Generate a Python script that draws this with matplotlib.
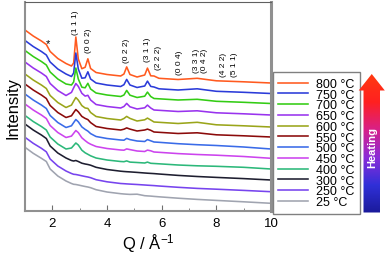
import numpy as np
import matplotlib.pyplot as plt
from matplotlib.colors import LinearSegmentedColormap
from matplotlib.patches import Polygon

plt.rcParams['font.family'] = ['Liberation Sans', 'DejaVu Sans']
plt.rcParams['mathtext.default'] = 'regular'

# Q grid (1/Angstrom) and stacked intensities
q = [1.0, 1.3, 1.6, 1.78, 1.92, 2.2, 2.5, 2.7, 2.78, 2.86, 2.95, 3.08, 3.2, 3.3, 3.4, 3.6,
     4.0, 4.5, 4.62, 4.72, 4.84, 5.1, 5.38, 5.48, 5.6, 5.72, 5.9, 6.6, 7.3, 8.0, 9.0, 10.0]

i_800 = [181, 175, 170, 166.5, 159.5, 152.5, 147.5, 145, 148, 174, 152, 142.3, 143.7, 152.2, 142.5, 138.5,
         136.5, 135, 137, 144.1, 136.5, 134, 136, 142.9, 135.2, 135, 132.7, 131.5, 132.7, 130.2, 129.2, 128]
i_750 = [170.5, 164.5, 159.5, 156, 149, 142, 137, 134.5, 138, 158, 142, 132.8, 133.2, 139.2, 132, 128,
         126, 124.5, 126.3, 131.6, 126, 123.5, 125, 129.9, 124.6, 124, 122.2, 121, 122.2, 119.7, 118.7, 117.5]
i_700 = [160.5, 154.5, 149.5, 146, 139, 132, 127, 126, 129, 143, 132, 123.8, 123.2, 127.7, 122, 118,
         116, 114.5, 116, 120.6, 115.8, 113.5, 114.8, 118.9, 114.5, 112.5, 112.2, 111, 111.7, 109.7, 108.7, 107.5]
i_650 = [149, 143, 138, 134.5, 127.5, 120.5, 115.5, 118.6, 123.2, 127.5, 124.6, 117.7, 114.9, 115.7, 111, 106.5,
         104.5, 103, 104.5, 107.6, 104.2, 102, 103.2, 105.9, 103, 101, 100.7, 99.5, 100.2, 98.2, 97.2, 96]
i_600 = [137, 131, 126, 122.5, 115.5, 108.5, 103.5, 105.9, 109.8, 113.5, 110.9, 105.4, 103, 102.6, 98.5, 94.5,
         92.5, 91, 92.5, 94.6, 92.6, 90, 91.2, 92.9, 91, 89, 88.7, 87.5, 88.7, 86.2, 85.2, 84]
i_550 = [127, 121, 116, 112.5, 105.5, 98.5, 93.5, 95.2, 98.4, 101.5, 99.2, 94.6, 92.6, 91.4, 88.4, 84.5,
         82.5, 81, 81.8, 83.1, 81.9, 80, 81, 81.9, 80.7, 79, 78.7, 77.5, 78.2, 76.2, 75.2, 74]
i_500 = [117, 111, 106, 102.5, 95.5, 88.5, 83.5, 85.2, 88.4, 91.5, 89.2, 84.1, 81.6, 79.9, 77.4, 74.5,
         72.5, 71, 70.8, 72.6, 71.4, 70, 69.5, 71.4, 70.2, 69, 68.7, 67.3, 66.3, 65.5, 64, 62]
i_450 = [107, 101, 96, 92.5, 85.5, 78.5, 73.5, 74.9, 77.7, 80.5, 78.4, 73.2, 70.4, 68.3, 66.8, 64.5,
         62.5, 61, 60.8, 62.1, 61.4, 60, 59.5, 60.9, 60.2, 59, 58.7, 57.4, 56.5, 55.8, 54.5, 52.7]
i_400 = [95.5, 89.5, 84.5, 81, 74, 67, 62, 63, 65.5, 68, 66, 60.8, 58.2, 56.7, 55.2, 53,
         51, 49.5, 49.3, 50.1, 48.9, 48.5, 48, 48.9, 47.7, 47.5, 47.2, 46, 45.2, 44.7, 43.7, 42]
i_300 = [87, 81, 76, 72.5, 65, 58, 53, 50.5, 50, 50.5, 49.5, 47.8, 47, 46.5, 45.8, 43.7,
         41.5, 39.8, 39.5, 39.3, 39.1, 38.6, 38, 37.8, 37.6, 37.4, 37, 35.6, 34.5, 33.6, 32.4, 31]
i_250 = [73.7, 67.7, 62.7, 59.2, 52, 45, 40, 37.5, 36.7, 36.5, 36, 35.2, 34.5, 34, 33.3, 31.3,
         29.2, 27.5, 27.3, 27.1, 26.9, 26.5, 26, 25.8, 25.6, 25.4, 25, 23.7, 22.6, 21.8, 20.6, 19.3]
i_25 = [63.7, 57.7, 52.7, 49.5, 42, 35, 30, 27.5, 26.7, 26.5, 26, 25.2, 24.5, 24, 23.3, 21.3,
        19, 17.3, 17, 16.8, 16.6, 16.8, 15.3, 15.1, 14.9, 14.6, 14.2, 12.8, 11.6, 10.6, 9.2, 7.7]

curves = [i_800, i_750, i_700, i_650, i_600, i_550, i_500, i_450, i_400, i_300, i_250, i_25]
temps = ['800 °C', '750 °C', '700 °C', '650 °C', '600 °C', '550 °C', '500 °C',
         '450 °C', '400 °C', '300 °C', '250 °C', '25 °C']
colors = ['#ff5a1f', '#2b3bd9', '#33cc14', '#9933ee', '#9aa51a', '#8b0a0a', '#3a6be8',
          '#cc44ee', '#2cb87a', '#1e1e30', '#7744ee', '#a0a4b0']

# reflections
peak_names = ['(1 1 1)', '(0 0 2)', '(0 2 2)', '(3 1 1)', '(2 2 2)', '(0 0 4)',
              '(3 3 1)', '(0 4 2)', '(4 2 2)', '(5 1 1)']
peak_q = [2.86, 3.34, 4.70, 5.50, 5.87, 6.67, 7.27, 7.55, 8.25, 8.68]
peak_label_y = [177, 159, 149, 150, 142, 137, 139, 139, 135, 135]

fig = plt.figure(figsize=(3.85, 2.55), dpi=100)
ax = fig.add_axes([25 / 385, 1 - 212 / 255, 246 / 385, 209 / 255])

for y, c, lab in zip(curves, colors, temps):
    ax.plot(q, y, color=c, lw=1.15, label=lab)

for name, xq, yl in zip(peak_names, peak_q, peak_label_y):
    ax.text(xq, yl, name, rotation=90, ha='center', va='bottom', fontsize=6)
ax.text(1.83, 168, '*', ha='center', va='center', fontsize=8)

ax.set_xlim(1, 10)
ax.set_ylim(0, 209)
ax.set_yticks([])
ax.set_xticks([2, 4, 6, 8, 10])
ax.set_xticks([1, 3, 5, 7, 9], minor=True)
ax.tick_params(axis='x', which='both', direction='in', labelsize=9.5, pad=4, color='#707070')
ax.tick_params(axis='x', which='major', length=4)
ax.tick_params(axis='x', which='minor', length=2)
for side in ['left', 'bottom']:
    ax.spines[side].set_color('#909090')
    ax.spines[side].set_linewidth(1.5)
ax.spines['top'].set_color('#606060')
ax.spines['top'].set_linewidth(0.8)
ax.spines['right'].set_color('#909090')
ax.spines['right'].set_linewidth(2.2)

ax.set_xlabel('Q / Å$^{-1}$', fontsize=12, labelpad=2)
ax.set_ylabel('Intensity', fontsize=12, labelpad=3)

leg = ax.legend(loc='upper left', bbox_to_anchor=(272.7 / 385, 1 - 73.3 / 255),
                bbox_transform=fig.transFigure, fancybox=False, edgecolor='#808080',
                framealpha=1, fontsize=9, handlelength=2.4, handletextpad=0.6,
                labelspacing=-0.1, borderpad=0.45, borderaxespad=0)
leg.get_frame().set_linewidth(1.0)

# heating arrow
ax2 = fig.add_axes([356 / 385, 1 - 213.5 / 255, 29 / 385, 138.5 / 255])
ax2.set_xlim(0, 29)
ax2.set_ylim(0, 138.5)
ax2.axis('off')
cmap = LinearSegmentedColormap.from_list(
    'heat', ['#1a1a9a', '#3030d8', '#8a2cd8', '#d82088', '#ff2020', '#ff3a10'])
grad = np.linspace(0, 1, 256).reshape(-1, 1)
im = ax2.imshow(grad, cmap=cmap, origin='lower', extent=[0, 29, 0, 138.5], aspect='auto')
arrow = Polygon([[7.5, 0], [24, 0], [24, 122], [28.8, 122], [15.75, 138.5],
                 [2.7, 122], [7.5, 122]], closed=True, transform=ax2.transData,
                facecolor='none', edgecolor='none')
ax2.add_patch(arrow)
im.set_clip_path(arrow)
ax2.text(15.75, 66, 'Heating', rotation=90, color='white', fontweight='bold',
         fontsize=8, ha='center', va='center')

fig.savefig('out.png', dpi=100)
